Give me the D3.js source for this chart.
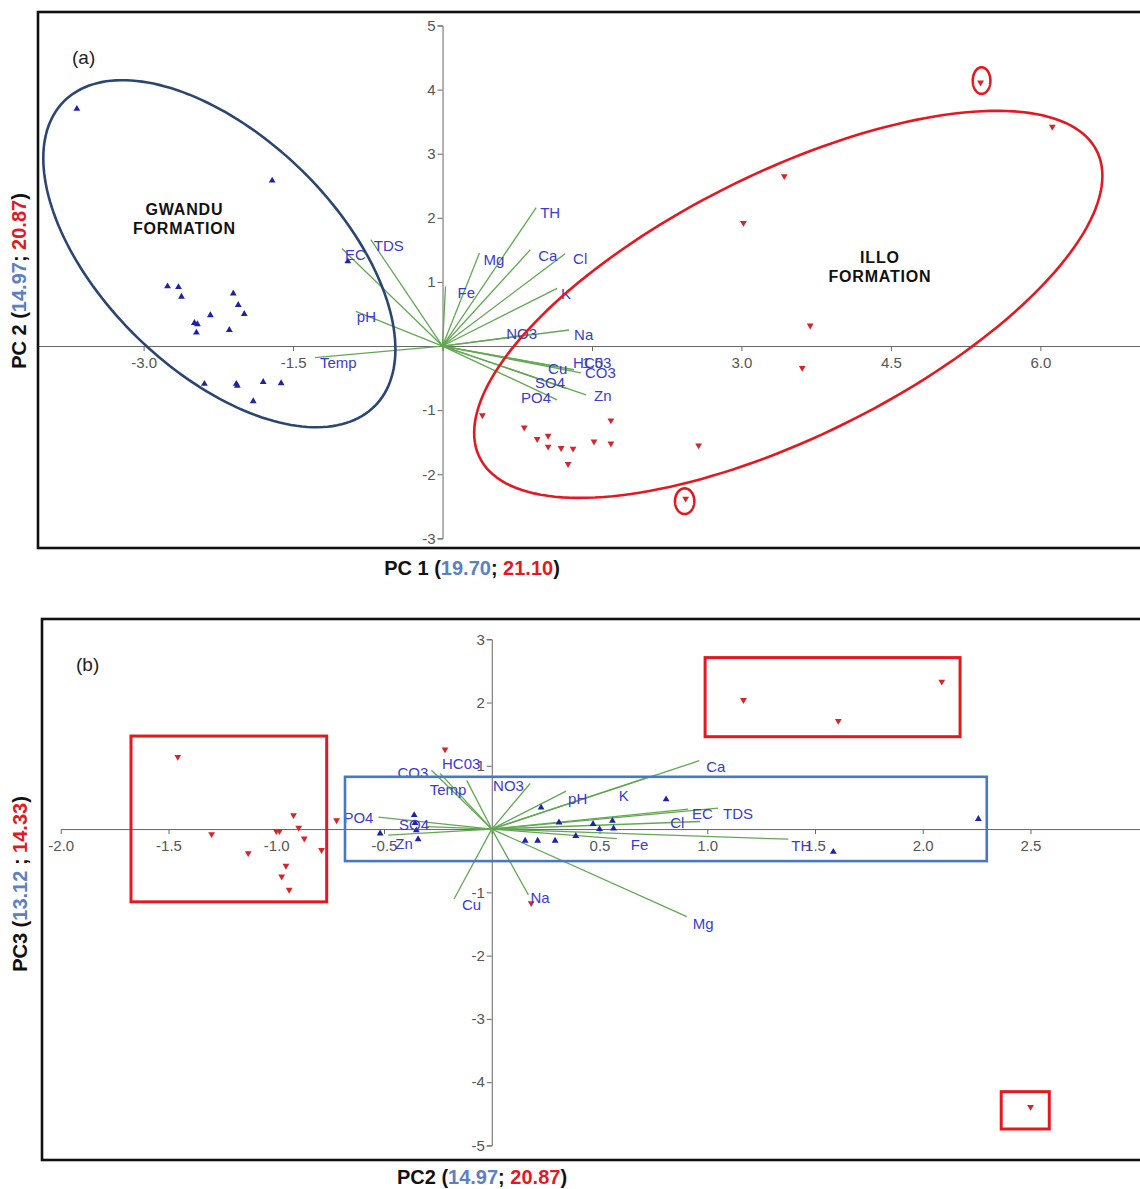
<!DOCTYPE html>
<html>
<head>
<meta charset="utf-8">
<script src="https://cdn.jsdelivr.net/npm/d3@7"></script>
<style>
  body { margin: 0; background: #fff; }
  svg { display: block; font-family: Arial, "Liberation Sans", sans-serif; }
</style>
</head>
<body>
<svg id="chart" width="1140" height="1189"></svg>
<script>
// ---- panel (a) : PC1 vs PC2 ----
const gwanduA = [[-3.67,3.70],[-1.71,2.58],[-0.95,1.32],[-2.76,0.93],[-2.65,0.92],[-2.62,0.77],[-2.10,0.82],
  [-2.05,0.64],[-1.99,0.50],[-2.33,0.48],[-2.49,0.36],[-2.46,0.34],[-2.47,0.21],[-2.14,0.25],[-2.39,-0.59],
  [-2.07,-0.59],[-2.06,-0.62],[-1.80,-0.56],[-1.62,-0.58],[-1.90,-0.86]];
const illoA = [[0.40,-1.08],[0.82,-1.27],[0.95,-1.45],[1.06,-1.40],[1.06,-1.57],[1.19,-1.59],[1.31,-1.60],
  [1.26,-1.84],[1.52,-1.49],[1.69,-1.16],[1.69,-1.52],[2.57,-1.55],[5.40,4.11],[6.12,3.42],[3.43,2.65],
  [3.02,1.92],[3.69,0.32],[3.61,-0.34],[2.44,-2.38]];
const vars = ['TH','Mg','Ca','Cl','Fe','K','NO3','Na','HC03','CO3','Cu','SO4','PO4','Zn','EC','TDS','pH','Temp'];
const loadA = [[0.94,2.16],[0.37,1.45],[0.88,1.50],[1.23,1.44],[0.03,0.93],[1.15,0.90],[0.92,0.19],[1.27,0.25],
  [1.32,-0.37],[1.39,-0.42],[1.15,-0.32],[1.24,-0.66],[1.15,-0.84],[1.44,-0.76],[-1.01,1.52],[-0.72,1.66],
  [-0.87,0.54],[-1.28,-0.18]];
const xTicksA = [-3, -1.5, 0, 1.5, 3, 4.5, 6];
const yTicksA = [-3, -2, -1, 1, 2, 3, 4, 5];
// ellipses: centre + covariance [sxx, syy, sxy] in PC units
const ellipsesA = [
  {c: [-2.24, 1.44], s: [3.122, 7.326, -2.631], color: '#2b4673'},
  {c: [3.47, 0.65], s: [9.939, 9.112, 6.320], color: '#e3191f'},
  {c: [5.41, 4.14], s: [0.0078, 0.043, 0], color: '#e3191f'},
  {c: [2.43, -2.42], s: [0.0094, 0.040, 0], color: '#e3191f'}
];

// ---- panel (b) : PC2 vs PC3 ----
const gwanduB = [[-0.36,0.22],[-0.356,0.095],[-0.35,-0.02],[-0.342,-0.16],[-0.518,-0.07],[0.229,0.34],
  [0.312,0.105],[0.155,-0.185],[0.213,-0.185],[0.294,-0.185],[0.39,-0.11],[0.47,0.08],[0.50,0.00],
  [0.56,0.13],[0.565,0.01],[0.809,0.47],[1.585,-0.36],[2.258,0.16]];
const illoB = [[-1.457,1.14],[-1.30,-0.08],[-1.13,-0.38],[-1.00,-0.03],[-0.985,-0.03],[-0.92,0.22],
  [-0.896,0.02],[-0.87,-0.15],[-0.79,-0.33],[-0.955,-0.58],[-0.975,-0.75],[-0.94,-0.96],[-0.72,0.14],
  [-0.217,1.26],[0.183,-1.17],[1.168,2.04],[1.608,1.71],[2.088,2.33],[2.50,-4.39]];
const loadB = [[1.376,-0.16],[0.905,-1.385],[0.963,1.08],[0.967,0.12],[0.58,-0.15],[0.71,0.80],[0.178,0.72],
  [0.17,-1.04],[-0.24,0.88],[-0.28,0.93],[-0.175,-1.106],[-0.30,0.04],[-0.526,0.19],[-0.48,-0.095],
  [0.911,0.316],[1.05,0.33],[0.345,0.60],[-0.116,0.77]];
const xTicksB = [-2, -1.5, -1, -0.5, 0, 0.5, 1, 1.5, 2, 2.5];
const yTicksB = [-5, -4, -3, -2, -1, 1, 2, 3];
// boxes [x0, y0, x1, y1] in PC units
const redBoxesB = [[-1.674,1.47,-0.766,-1.15],[0.99,2.71,2.173,1.46],[2.364,-4.15,2.587,-4.74]];
const blueBoxesB = [[-0.681,0.826,2.297,-0.506]];

// label nudges in px (dx, dy) from the arrow tip, same order as vars
const nudgeA = [[4,5],[4,6],[8,6],[8,5],[12,6],[4,5],[-28,0],[5,4],[-1,-7],[4,0],[-9,2],[-31,-6],[-36,-2],
  [8,1],[3,6],[3,6],[1,5],[5,5]];
const nudgeB = [[3,6],[6,7],[7,6],[-30,1],[14,6],[-26,17],[-37,2],[2,3],[2,-10],[-34,2],[8,5],[-28,-2],
  [-35,0],[7,8],[4,4],[5,5],[2,7],[-37,9]];

const BLUE_PT = '#1e22a8', RED_PT = '#d8232a', GREEN = '#62a852', LABEL = '#3b3bcc';
const svg = d3.select('#chart');
const hyphen = s => s.replace('\u2212', '-');

function panel(cfg) {
  const x = d3.scaleLinear().domain(cfg.xDom).range([cfg.left, 1140]);
  const y = d3.scaleLinear().domain(cfg.yDom).range([cfg.bottom, cfg.top]);
  const g = svg.append('g');

  // axes through origin
  const xa = x.copy().domain(cfg.xAxisDom).range(cfg.xAxisDom.map(x));
  g.append('g')
    .attr('transform', `translate(0,${y(0)})`)
    .call(d3.axisBottom(xa).tickValues(cfg.xTicks).tickSize(5).tickSizeOuter(0).tickPadding(6)
      .tickFormat(d => d === 0 ? '' : hyphen(d3.format('.1f')(d))));
  const ya = y.copy().domain(cfg.yAxisDom).range(cfg.yAxisDom.map(y));
  g.append('g')
    .attr('transform', `translate(${x(0)},0)`)
    .call(d3.axisLeft(ya).tickValues(cfg.yTicks).tickSize(5).tickSizeOuter(5).tickPadding(2)
      .tickFormat(d => hyphen(d3.format('d')(d))));
  g.selectAll('.domain, .tick line').attr('stroke', '#666');
  g.selectAll('.tick text').attr('fill', '#555').style('font-size', '15px');

  // loading vectors
  g.append('g').selectAll('line').data(cfg.load).join('line')
    .attr('x1', x(0)).attr('y1', y(0))
    .attr('x2', d => x(d[0])).attr('y2', d => y(d[1]))
    .attr('stroke', GREEN).attr('stroke-width', 1.3);

  // scores
  const tri = d3.symbol(d3.symbolTriangle).size(20);
  g.append('g').selectAll('path').data(cfg.gwandu).join('path')
    .attr('d', tri).attr('fill', BLUE_PT)
    .attr('transform', d => `translate(${x(d[0])},${y(d[1])})`);
  g.append('g').selectAll('path').data(cfg.illo).join('path')
    .attr('d', tri).attr('fill', RED_PT)
    .attr('transform', d => `translate(${x(d[0])},${y(d[1])}) rotate(180)`);

  // variable labels
  g.append('g').selectAll('text').data(cfg.load).join('text')
    .attr('x', (d, i) => x(d[0]) + cfg.nudge[i][0])
    .attr('y', (d, i) => y(d[1]) + cfg.nudge[i][1])
    .attr('dominant-baseline', 'central')
    .attr('fill', LABEL).style('font-size', '15px')
    .text((d, i) => vars[i]);

  // frame
  g.append('rect')
    .attr('x', cfg.left).attr('y', cfg.top)
    .attr('width', 1160 - cfg.left).attr('height', cfg.bottom - cfg.top)
    .attr('fill', 'none').attr('stroke', '#111').attr('stroke-width', 2.6);

  g.append('text').attr('x', cfg.left + 34).attr('y', cfg.top + 45)
    .attr('dominant-baseline', 'central').attr('fill', '#222')
    .style('font-size', '19px').text(cfg.tag);

  return {g, x, y};
}

function title(parent, x, y, rotate, parts) {
  const t = parent.append('text')
    .attr('transform', `translate(${x},${y}) rotate(${rotate})`)
    .attr('text-anchor', 'middle').attr('dominant-baseline', 'central')
    .style('font-size', '20px').style('font-weight', 'bold');
  parts.forEach(p => t.append('tspan').attr('fill', p[1]).text(p[0]));
}

// ---------- panel a ----------
const A = panel({
  left: 38, top: 12, bottom: 548,
  xDom: [-4.06, 7.0], yDom: [-3.15, 5.21],
  xAxisDom: [-4.06, 7.0], yAxisDom: [-3, 5],
  xTicks: xTicksA, yTicks: yTicksA,
  load: loadA, nudge: nudgeA, gwandu: gwanduA, illo: illoA, tag: '(a)'
});

const ellLine = d3.line();
A.g.append('g').selectAll('path').data(ellipsesA).join('path')
  .attr('d', e => {
    const l11 = Math.sqrt(e.s[0]), l21 = e.s[2] / l11, l22 = Math.sqrt(e.s[1] - l21 * l21);
    const pts = d3.range(0, 2 * Math.PI + 0.01, Math.PI / 90).map(t =>
      [A.x(e.c[0] + l11 * Math.cos(t)), A.y(e.c[1] + l21 * Math.cos(t) + l22 * Math.sin(t))]);
    return ellLine(pts) + 'Z';
  })
  .attr('fill', 'none').attr('stroke', e => e.color).attr('stroke-width', 2.6);

const groupText = [['GWANDU', 'FORMATION', -2.59, 2.05], ['ILLO', 'FORMATION', 4.39, 1.30]];
groupText.forEach(gt => {
  const t = A.g.append('text').attr('text-anchor', 'middle')
    .style('font-size', '16px').style('font-weight', 'bold').style('letter-spacing', '0.8px').attr('fill', '#111');
  t.append('tspan').attr('x', A.x(gt[2])).attr('y', A.y(gt[3])).text(gt[0]);
  t.append('tspan').attr('x', A.x(gt[2])).attr('dy', 19).text(gt[1]);
});

title(svg, 472, 568, 0, [['PC 1 (', '#111'], ['19.70', '#5b80c4'], ['; ', '#111'], ['21.10', '#e3191f'], [')', '#111']]);
title(svg, 19, 281, -90, [['PC 2 (', '#111'], ['14.97', '#5b80c4'], ['; ', '#111'], ['20.87', '#e3191f'], [')', '#111']]);

// ---------- panel b ----------
const B = panel({
  left: 42, top: 619, bottom: 1160,
  xDom: [-2.087, 3.008], yDom: [-5.23, 3.32],
  xAxisDom: [-2, 3.008], yAxisDom: [-5, 3],
  xTicks: xTicksB, yTicks: yTicksB,
  load: loadB, nudge: nudgeB, gwandu: gwanduB, illo: illoB, tag: '(b)'
});

const boxes = redBoxesB.map(b => ({b, c: '#e3191f', w: 3})).concat(blueBoxesB.map(b => ({b, c: '#4a78c0', w: 2.6})));
B.g.append('g').selectAll('rect').data(boxes).join('rect')
  .attr('x', d => B.x(d.b[0])).attr('y', d => B.y(d.b[1]))
  .attr('width', d => B.x(d.b[2]) - B.x(d.b[0])).attr('height', d => B.y(d.b[3]) - B.y(d.b[1]))
  .attr('fill', 'none').attr('stroke', d => d.c).attr('stroke-width', d => d.w);

title(svg, 482, 1177, 0, [['PC2 (', '#111'], ['14.97', '#5b80c4'], ['; ', '#111'], ['20.87', '#e3191f'], [')', '#111']]);
title(svg, 20, 884, -90, [['PC3 (', '#111'], ['13.12', '#5b80c4'], [' ; ', '#111'], ['14.33', '#e3191f'], [')', '#111']]);
</script>
</body>
</html>
